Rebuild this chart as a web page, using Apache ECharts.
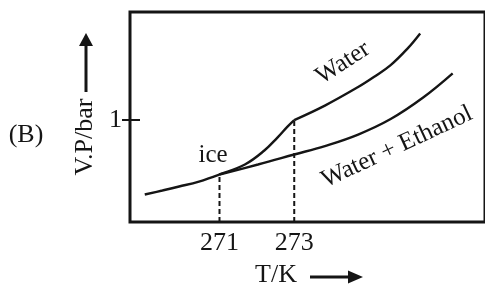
<!DOCTYPE html>
<html>
<head>
<meta charset="utf-8">
<script src="https://cdn.jsdelivr.net/npm/echarts@6/dist/echarts.min.js"></script>
<style>
html,body{margin:0;padding:0;background:#fff;}
#chart{width:485px;height:287px;}
</style>
</head>
<body>
<div id="chart"></div>
<script>
// Data (T in K, vapour pressure in bar)
var tMin = 268.605, tMax = 278.105;
var pMin = 0, pMax = 2.06;
var xTickLabels = [271, 273];
var yTickLabels = [1];
// ice curve (solid water), 269 K up to the melting point 273 K
var iceCurve = [
  [269.00, 0.270], [269.47, 0.309], [269.92, 0.348], [270.45, 0.397],
  [271.00, 0.466], [271.68, 0.564], [272.20, 0.701], [272.55, 0.828],
  [272.82, 0.936], [273.00, 1.000]
];
// Water + Ethanol solution, from its freezing point 271 K
var ethanolCurve = [
  [271.00, 0.466], [272.03, 0.564], [273.00, 0.662], [273.82, 0.745],
  [274.71, 0.858], [275.58, 1.010], [276.45, 1.221], [277.24, 1.458]
];
// liquid water above 273 K
var waterCurve = [
  [273.00, 1.000], [273.82, 1.142], [274.71, 1.324], [275.13, 1.422],
  [275.58, 1.539], [276.03, 1.701], [276.37, 1.850]
];
var drop271 = [[271, 0], [271, 0.466]];
var drop273 = [[273, 0], [273, 1.0]];

var ink = '#151515';
var FONT = 'Liberation Serif';
var chart = echarts.init(document.getElementById('chart'));
var curveStyle = {color: ink, width: 2.4};
var dashStyle = {color: ink, width: 2, type: [5, 3]};

chart.setOption({
  animation: false,
  backgroundColor: '#fff',
  grid: {left: 130, top: 12, bottom: 65, right: -6, show: true,
         borderColor: ink, borderWidth: 3, backgroundColor: 'transparent'},
  xAxis: {
    type: 'value', min: tMin, max: tMax,
    axisLine: {show: false}, splitLine: {show: false},
    axisTick: {show: false},
    axisLabel: {customValues: xTickLabels, color: ink, fontFamily: FONT, fontSize: 26, margin: 8}
  },
  yAxis: [{
    type: 'value', min: pMin, max: pMax,
    axisLine: {show: false}, splitLine: {show: false},
    axisTick: {show: true, customValues: yTickLabels, length: 8, lineStyle: {color: ink, width: 2}},
    axisLabel: {customValues: yTickLabels, color: ink, fontFamily: FONT, fontSize: 26, margin: 8}
  }, {
    type: 'value', min: pMin, max: pMax, position: 'left',
    axisLine: {show: false}, splitLine: {show: false},
    axisTick: {show: true, inside: true, customValues: yTickLabels, length: 10, lineStyle: {color: ink, width: 2}},
    axisLabel: {show: false}
  }],
  series: [
    {type: 'line', data: drop271, symbol: 'none', lineStyle: dashStyle, silent: true},
    {type: 'line', data: drop273, symbol: 'none', lineStyle: dashStyle, silent: true},
    {type: 'line', data: iceCurve, symbol: 'none', smooth: 0.4, lineStyle: curveStyle},
    {type: 'line', data: ethanolCurve, symbol: 'none', smooth: 0.4, lineStyle: curveStyle},
    {type: 'line', data: waterCurve, symbol: 'none', smooth: 0.4, lineStyle: curveStyle}
  ],
  graphic: [
    {type: 'text', x: 26, y: 135, style: {text: '(B)', font: '26px "' + FONT + '"', fill: ink, align: 'center', verticalAlign: 'middle'}},
    {type: 'text', x: 85, y: 137, rotation: Math.PI / 2, style: {text: 'V.P/bar', font: '26px "' + FONT + '"', fill: ink, align: 'center', verticalAlign: 'middle'}},
    {type: 'line', shape: {x1: 86, y1: 92, x2: 86, y2: 44}, style: {stroke: ink, lineWidth: 3}},
    {type: 'polygon', shape: {points: [[86, 33], [79, 46], [93, 46]]}, style: {fill: ink}},
    {type: 'text', x: 276, y: 275, style: {text: 'T/K', font: '26px "' + FONT + '"', fill: ink, align: 'center', verticalAlign: 'middle'}},
    {type: 'line', shape: {x1: 310, y1: 277, x2: 350, y2: 277}, style: {stroke: ink, lineWidth: 3}},
    {type: 'polygon', shape: {points: [[363, 277], [348, 270.5], [348, 283.5]]}, style: {fill: ink}},
    {type: 'text', x: 213, y: 155, style: {text: 'ice', font: '25px "' + FONT + '"', fill: ink, align: 'center', verticalAlign: 'middle'}},
    {type: 'text', x: 343, y: 63, rotation: 33 * Math.PI / 180, style: {text: 'Water', font: '25px "' + FONT + '"', fill: ink, align: 'center', verticalAlign: 'middle'}},
    {type: 'text', x: 397, y: 147, rotation: 25 * Math.PI / 180, style: {text: 'Water + Ethanol', font: '25px "' + FONT + '"', fill: ink, align: 'center', verticalAlign: 'middle'}}
  ]
});
</script>
</body>
</html>
